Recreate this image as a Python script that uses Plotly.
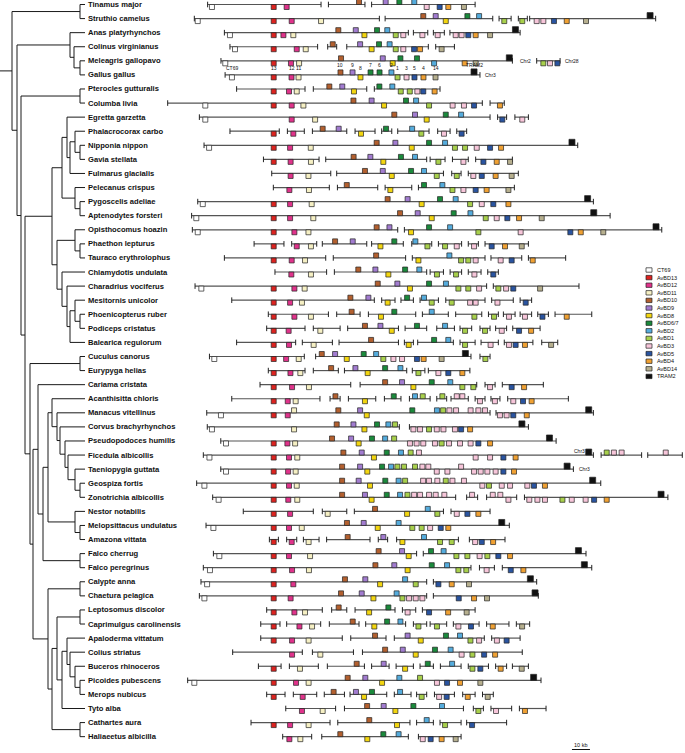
import plotly.graph_objects as go

# ---------------- data ----------------
SPECIES = [
    "Tinamus major", "Struthio camelus", "Anas platyrhynchos", "Colinus virginianus",
    "Meleagris gallopavo", "Gallus gallus", "Pterocles gutturalis", "Columba livia",
    "Egretta garzetta", "Phalacrocorax carbo", "Nipponia nippon", "Gavia stellata",
    "Fulmarus glacialis", "Pelecanus crispus", "Pygoscelis adeliae", "Aptenodytes forsteri",
    "Opisthocomus hoazin", "Phaethon lepturus", "Tauraco erythrolophus", "Chlamydotis undulata",
    "Charadrius vociferus", "Mesitornis unicolor", "Phoenicopterus ruber", "Podiceps cristatus",
    "Balearica regulorum", "Cuculus canorus", "Eurypyga helias", "Cariama cristata",
    "Acanthisitta chloris", "Manacus vitellinus", "Corvus brachyrhynchos", "Pseudopodoces humilis",
    "Ficedula albicollis", "Taeniopygia guttata", "Geospiza fortis", "Zonotrichia albicollis",
    "Nestor notabilis", "Melopsittacus undulatus", "Amazona vittata", "Falco cherrug",
    "Falco peregrinus", "Calypte anna", "Chaetura pelagica", "Leptosomus discolor",
    "Caprimulgus carolinensis", "Apaloderma vittatum", "Colius striatus", "Buceros rhinoceros",
    "Picoides pubescens", "Merops nubicus", "Tyto alba", "Cathartes aura", "Haliaeetus albicilla",
]

GENE_TYPES = ["CT69", "AvBD13", "AvBD12", "AvBD11", "AvBD10", "AvBD9", "AvBD8", "AvBD6/7",
              "AvBD2", "AvBD1", "AvBD3", "AvBD5", "AvBD4", "AvBD14", "TRAM2"]
GENE_CODES = ["CT", "13", "12", "11", "10", "9", "8", "67", "2", "1", "3", "5", "4", "14", "TR"]
GENE_COLORS = ["#ffffff", "#dc2320", "#e0338b", "#f6f0c4", "#b3602f", "#a27cd0", "#f3d610",
               "#1b8a3c", "#55acdd", "#a8d04c", "#f7c6da", "#2a54a0", "#f0a133", "#b7b08f", "#111111"]

# phylogeny: (node depth, [children]); integers are row indices
TREE = (12, [(80, [0, 1]),
             (17, [(70, [2, (74, [3, (80, [4, 5])])]),
                   (21, [(80, [6, 7]),
                         (25, [(52, [(62, [(67, [8, (70, [(75, [9, (80, [10, 11])]), 12])]),
                                           (75, [13, (80, [14, 15])])]),
                                     (57, [(75, [16, (80, [17, 18])]),
                                           (62, [19, (67, [20, (70, [(75, [21, (80, [22, 23])]), 24])])])])]),
                               (30, [(80, [25, 26]),
                                     (33, [(38, [27, (43, [(48, [(52, [28, (57, [29, (60, [30, (65, [31, (68, [32, (75, [33, (80, [34, 35])])])])])])]),
                                                                 (75, [36, (80, [37, 38])])]),
                                                           (80, [39, 40])])]),
                                           (48, [(80, [41, 42]),
                                                 (52, [(57, [(80, [43, 44]),
                                                             (62, [(67, [45, (70, [46, (75, [47, (80, [48, 49])])])]), 50])]),
                                                       (80, [51, 52])])])])])])])])])

# contigs (start kb, end kb) and genes (code, kb, 1 = upper strand / 0 = lower strand)
tinamus_segs = [(-36.7, 26.3), (30.4, 50.7), (54.4, 111.9)]
tinamus_genes = [("CT", -34.3, 0), ("13", 0, 0), ("12", 7.2, 0), ("10", 47.4, 1), ("9", 62.2, 1), ("67", 69.8, 1),
                 ("2", 78.1, 1), ("3", 85.0, 0), ("5", 92.2, 0), ("4", 97.0, 0), ("14", 105.7, 0)]
struthio_segs = [(-44.1, 58.7), (61.9, 121.7), (125.2, 131.9), (135.9, 140.9), (142.2, 212.2)]
struthio_genes = [("CT", -42.2, 0), ("13", 0, 0), ("12", 10, 0), ("11", 26.3, 0), ("10", 83.1, 1), ("9", 90, 1),
                  ("8", 95.6, 0), ("67", 107.6, 1), ("2", 114.1, 1), ("1", 128.1, 0), ("1", 138.1, 0), ("3", 146.1, 0),
                  ("3", 149.8, 0), ("5", 155.7, 0), ("4", 162.8, 0), ("14", 173.5, 0), ("TR", 209.1, 1)]
anas_segs = [(-27.4, 74.8), (77.6, 85.6), (88.7, 94.8), (97.9, 136.9)]
anas_genes = [("CT", -24.3, 0), ("13", 0, 0), ("12", 5.4, 0), ("11", 10.9, 0), ("10", 35.9, 1), ("9", 45.6, 1),
              ("8", 50.4, 0), ("67", 57.4, 1), ("2", 63.1, 1), ("1", 67.8, 0), ("3", 72.0, 0), ("3", 82.6, 0),
              ("3", 91.1, 0), ("3", 101.1, 0), ("3", 104.4, 0), ("5", 108.1, 0), ("4", 112.2, 0), ("14", 120.2, 0),
              ("TR", 134.3, 1)]
colinus_segs = [(-24.3, 24.4), (30, 35), (40.6, 85.9), (90, 100.4)]
colinus_genes = [("CT", -21.5, 0), ("13", 0, 0), ("12", 12.8, 0), ("11", 17.8, 0), ("10", 32.8, 1), ("9", 48, 1),
                 ("8", 54.4, 0), ("67", 58.5, 1), ("2", 64.4, 1), ("1", 67.8, 0), ("3", 72, 0), ("5", 78, 0),
                 ("4", 81.3, 0), ("14", 93.3, 0)]
meleagris_segs = [(-29.3, 132.6), (146.1, 159.1)]
meleagris_genes = [("CT", -26.9, 0), ("13", 0, 0), ("12", 9.6, 0), ("11", 14.1, 0), ("10", 37.4, 1), ("9", 60.6, 1),
                   ("8", 66.1, 0), ("67", 70.4, 1), ("67", 79.6, 1), ("2", 89.1, 0), ("4", 106.1, 0), ("14", 112.2, 0),
                   ("TR", 130.9, 1), ("1", 149.8, 0), ("3", 153.5, 0), ("5", 157.6, 0)]
gallus_segs = [(-27.0, 114.6)]
gallus_genes = [("CT", -23.2, 0), ("13", 0, 0), ("12", 9.9, 0), ("11", 13.8, 0), ("10", 37.1, 1), ("9", 43.8, 1),
                ("8", 48.2, 0), ("67", 53.8, 1), ("67", 58.8, 1), ("2", 65.4, 1), ("1", 68.8, 0), ("3", 73.8, 0),
                ("5", 78.2, 0), ("4", 83.2, 0), ("14", 89.9, 0), ("TR", 111.3, 1)]
pterocles_segs = [(-20.6, 17.4), (22, 51.7), (55.9, 92.4)]
pterocles_genes = [("13", 0, 0), ("12", 8.5, 0), ("11", 12.8, 0), ("10", 30.9, 1), ("9", 38.1, 1), ("8", 44.6, 0),
                   ("67", 58.7, 1), ("2", 65.9, 1), ("1", 70.6, 0), ("1", 75.6, 0), ("3", 79.8, 0), ("5", 83.1, 0),
                   ("4", 89.4, 0)]
columba_segs = [(-58.9, 115.9), (120.2, 128.1)]
columba_genes = [("CT", -38, 0), ("13", 0, 0), ("12", 10, 0), ("11", 16.5, 0), ("10", 44.3, 1), ("9", 54.4, 1),
                 ("8", 61.3, 0), ("67", 73.5, 1), ("2", 79.1, 1), ("1", 86.3, 0), ("3", 99.4, 0), ("3", 105.7, 0),
                 ("5", 111.3, 0), ("4", 125.7, 0)]
egretta_segs = [(-41.3, 120.2), (124.4, 129.4), (134, 141.5)]
egretta_genes = [("CT", -38, 0), ("12", 10, 0), ("11", 23, 0), ("10", 67, 1), ("9", 78.5, 1), ("8", 85, 0),
                 ("67", 95.6, 1), ("2", 104.1, 1), ("5", 127, 0), ("3", 138.1, 0)]
phalacrocorax_segs = [(-24.3, 3.1), (7.6, 17), (21.5, 40.6), (45.2, 56.3), (60, 65.6), (68.9, 86.3),
                      (91.1, 98), (101.7, 107.2)]
phalacrocorax_genes = [("13", 0, 0), ("12", 10.9, 0), ("10", 27.2, 1), ("9", 36.1, 1), ("8", 48.5, 0),
                       ("67", 62.4, 1), ("2", 76.9, 1), ("1", 82, 0), ("3", 94.6, 0), ("5", 104.4, 0)]
nipponia_segs = [(-38.7, 168.9)]
nipponia_genes = [("CT", -35.9, 0), ("13", 0, 0), ("12", 9.1, 0), ("11", 20.6, 0), ("10", 57.2, 1), ("9", 67.6, 1),
                  ("8", 76.7, 0), ("67", 86.3, 1), ("2", 95.2, 1), ("1", 100.7, 0), ("1", 106.3, 0), ("3", 112.8, 0),
                  ("5", 120.2, 0), ("4", 126.3, 0), ("TR", 165.7, 1)]
gavia_segs = [(-5.7, 25.2), (28.9, 85), (86.9, 95.2), (99.3, 108.1), (112.2, 132.6)]
gavia_genes = [("13", 0, 0), ("12", 9.4, 0), ("11", 20.7, 0), ("10", 44.4, 1), ("9", 53.7, 1), ("8", 60.9, 0),
               ("67", 70.7, 1), ("2", 78.5, 1), ("1", 91.5, 0), ("3", 105.4, 0), ("5", 116.5, 0), ("4", 123.9, 0),
               ("14", 131.3, 0)]
fulmarus_segs = [(-1.1, 31.7), (35, 94.3), (98.9, 104.1), (108.1, 135.9)]
fulmarus_genes = [("12", 9.4, 0), ("11", 19.3, 0), ("10", 50.7, 1), ("9", 60.6, 1), ("8", 65.6, 0), ("67", 76.3, 1),
                  ("2", 83.5, 1), ("1", 90.6, 0), ("1", 101.7, 0), ("3", 110.9, 0), ("5", 115.6, 0), ("4", 123.3, 0),
                  ("14", 132.2, 0)]
pelecanus_segs = [(-0.2, 30.9), (35.4, 57.8), (61.9, 76.7), (80.4, 133.7)]
pelecanus_genes = [("12", 8.7, 0), ("11", 19.6, 0), ("10", 40.6, 1), ("8", 64.8, 0), ("67", 83.5, 1), ("2", 93.7, 1),
                   ("1", 99.3, 0), ("3", 105.4, 0), ("5", 112.2, 0), ("4", 118.3, 0), ("14", 130.4, 0)]
pygoscelis_segs = [(-42.2, 177.6)]
pygoscelis_genes = [("CT", -39.4, 0), ("13", 0, 0), ("12", 9.1, 0), ("11", 21.1, 0), ("10", 63.3, 1), ("9", 74.4, 1),
                    ("8", 82.2, 0), ("67", 92.4, 1), ("2", 101.1, 1), ("1", 109.1, 0), ("3", 115.6, 0), ("5", 122, 0),
                    ("4", 130.4, 0), ("TR", 174.4, 1)]
aptenodytes_segs = [(-45.6, 186.9)]
aptenodytes_genes = [("CT", -43, 0), ("13", 0, 0), ("12", 9.1, 0), ("11", 22, 0), ("10", 70.2, 1), ("9", 80, 1),
                     ("8", 87.8, 0), ("67", 100, 1), ("2", 109.3, 1), ("1", 117.8, 0), ("3", 123.9, 0), ("5", 129.8, 0),
                     ("4", 136.3, 0), ("14", 148.9, 0), ("TR", 177.8, 1)]
opisthocomus_segs = [(-45.2, 68.9), (72.6, 215.6)]
opisthocomus_genes = [("CT", -42.2, 0), ("13", 0, 0), ("12", 11.5, 0), ("11", 19.3, 0), ("10", 57.2, 1), ("9", 64.3, 1),
                      ("8", 76.3, 0), ("67", 86.3, 1), ("2", 98, 1), ("1", 113.7, 0), ("3", 137.2, 0), ("5", 164.8, 0),
                      ("4", 170.6, 0), ("14", 183.1, 0), ("TR", 212.4, 1)]
phaethon_segs = [(-10.9, 5.7), (10, 23.9), (27, 51.7), (54.4, 72), (76.7, 87.8), (91.5, 104.4), (108.1, 113.7),
                 (117.4, 141.5)]
phaethon_genes = [("13", 0, 0), ("12", 12.8, 0), ("11", 20.7, 0), ("10", 34.1, 1), ("9", 43.9, 1), ("8", 59.3, 0),
                  ("67", 67, 1), ("2", 78.7, 1), ("1", 85.4, 0), ("1", 95.2, 0), ("3", 101.7, 0), ("3", 111.3, 0),
                  ("5", 121.1, 0), ("4", 128.5, 0), ("14", 137.8, 0)]
tauraco_segs = [(-27.4, 28.9), (33.1, 73.3), (77, 117.4), (120.7, 137.8), (141.5, 162.2)]
tauraco_genes = [("13", 0, 0), ("12", 10, 0), ("11", 17.4, 0), ("10", 56.9, 1), ("8", 80.4, 0), ("2", 97.6, 1),
                 ("1", 104.1, 0), ("1", 108.1, 0), ("3", 112.2, 0), ("3", 126.1, 0), ("5", 132.2, 0), ("4", 143.9, 0)]
chlamydotis_segs = [(0.7, 29.4), (33.7, 85), (86.9, 94.3), (98, 104.4), (108.1, 115.2), (118.9, 124.8)]
chlamydotis_genes = [("12", 9.8, 0), ("11", 20.7, 0), ("10", 47, 1), ("9", 56.5, 1), ("8", 63.7, 0), ("67", 73, 1),
                     ("2", 80.9, 1), ("1", 90.7, 0), ("1", 101.3, 0), ("3", 111.5, 0), ("5", 122, 0)]
charadrius_segs = [(-43.7, 118.3), (122, 169.6)]
charadrius_genes = [("CT", -40.2, 0), ("13", 0, 0), ("12", 11.5, 0), ("11", 17.2, 0), ("10", 57.8, 1), ("9", 68.7, 1),
                    ("8", 75.7, 0), ("67", 86.3, 1), ("2", 95.7, 1), ("1", 102.6, 0), ("1", 108.1, 0), ("3", 114.1, 0),
                    ("1", 124.8, 0), ("3", 129.1, 0), ("5", 133.1, 0), ("14", 148, 0)]
mesitornis_segs = [(-23.3, 55.9), (60, 67.4), (70.7, 77.6), (81.3, 91.5), (95.6, 117.4), (121.1, 133.1),
                   (136.9, 143.3)]
mesitornis_genes = [("13", 0, 0), ("12", 9.1, 0), ("11", 15.7, 0), ("10", 42.6, 1), ("9", 52.6, 1), ("8", 63.3, 0),
                    ("67", 74.1, 1), ("2", 83.5, 1), ("1", 87.8, 0), ("1", 98.9, 0), ("3", 109.1, 0), ("3", 112.2, 0),
                    ("3", 124.3, 0), ("5", 140, 0)]
phoenicopterus_segs = [(-3, 30.4), (35, 48), (52.6, 78.9), (82.6, 97), (101.1, 115.6), (119.3, 124.8),
                       (127.6, 134.1), (136.9, 143.3), (146.7, 152.6), (156.3, 176.7)]
phoenicopterus_genes = [("13", 0, 0), ("12", 11.5, 0), ("11", 20.7, 0), ("10", 43.3, 1), ("8", 59.6, 0),
                        ("67", 67, 1), ("2", 87.8, 1), ("1", 111.5, 0), ("1", 122.4, 0), ("3", 130.7, 0),
                        ("3", 139.6, 0), ("5", 149.3, 0), ("4", 162.8, 0)]
podiceps_segs = [(-3.9, 17.4), (22, 36.9), (41.1, 69.3), (73, 85), (90.6, 100.4), (103.5, 110), (114.6, 120.2),
                 (123.3, 129.4), (132.8, 148)]
podiceps_genes = [("13", 0, 0), ("12", 8.3, 0), ("11", 25.9, 0), ("10", 50.7, 1), ("9", 59.3, 1), ("8", 65.6, 0),
                  ("67", 79.6, 1), ("2", 95.2, 1), ("1", 106.3, 0), ("1", 117.4, 0), ("3", 126.7, 0), ("5", 136.3, 0),
                  ("4", 143, 0)]
balearica_segs = [(-20.6, 12.2), (15.9, 32.6), (36.3, 69.3), (72.6, 77.6), (80, 99.8), (103.5, 111.9),
                  (115.2, 124.8), (128.1, 144), (148.9, 157.8)]
balearica_genes = [("13", 0, 0), ("12", 8.5, 0), ("11", 22.2, 0), ("10", 54.1, 1), ("8", 75, 0), ("67", 89.1, 1),
                   ("2", 97, 1), ("1", 106.3, 0), ("3", 120.5, 0), ("3", 130.7, 0), ("5", 134.4, 0), ("4", 139.6, 0),
                   ("14", 154.1, 0)]
cuculus_segs = [(-35.7, 17), (23.3, 109.6), (114.6, 120.2)]
cuculus_genes = [("CT", -33, 0), ("13", 0, 0), ("12", 6.9, 0), ("11", 13.9, 0), ("10", 26.7, 1), ("9", 34.1, 1),
                 ("8", 40.6, 0), ("67", 50, 1), ("2", 56.9, 1), ("1", 60.9, 0), ("3", 66.5, 0), ("3", 71.3, 0),
                 ("5", 79.6, 0), ("4", 83.3, 0), ("14", 93.3, 0), ("TR", 106.5, 1), ("1", 117.6, 0)]
eurypyga_segs = [(-3, 17.4), (22, 35.9), (39.3, 73.9), (77, 84), (85.9, 109)]
eurypyga_genes = [("13", 0, 0), ("12", 9.3, 0), ("11", 14.8, 0), ("10", 31.9, 1), ("9", 45.4, 1), ("8", 52.2, 0),
                  ("67", 61.9, 1), ("2", 70.4, 1), ("1", 80.4, 0), ("3", 91.5, 0), ("5", 97, 0), ("4", 104.8, 0)]
cariama_segs = [(-7.6, 42.8), (48, 112.8), (117.4, 123), (127, 149.8)]
cariama_genes = [("13", 0, 0), ("12", 10.2, 0), ("11", 19.6, 0), ("10", 61.9, 1), ("9", 71.3, 1), ("8", 77.6, 0),
                 ("67", 87.8, 1), ("2", 98.1, 1), ("1", 104.8, 0), ("1", 110.9, 0), ("3", 120.2, 0), ("5", 132.2, 0),
                 ("4", 139.1, 0)]
acanthisitta_segs = [(-23.3, 25.7), (31.3, 36.9), (41.5, 56.7), (61.5, 70.7), (75.4, 86.9), (90.6, 96.1),
                     (98.5, 108.1), (111.9, 117.4), (120.7, 125.7), (130, 163.7)]
acanthisitta_genes = [("13", 0, 0), ("12", 7.8, 0), ("11", 12.2, 0), ("10", 34.3, 1), ("8", 50.7, 0), ("67", 66.7, 1),
                      ("2", 78.5, 1), ("1", 82.8, 1), ("1", 93.7, 1), ("3", 101.7, 1), ("3", 104.8, 1),
                      ("3", 114.6, 0), ("3", 122.9, 0), ("3", 133.1, 0), ("5", 138.5, 0), ("4", 143.3, 0)]
manacus_segs = [(-37.2, 120.2), (123.5, 177.6)]
manacus_genes = [("CT", -29.3, 0), ("13", 0, 0), ("12", 7.8, 0), ("11", 11.3, 1), ("10", 35.9, 1), ("9", 48, 1),
                 ("8", 51.7, 0), ("67", 77, 1), ("2", 90.7, 1), ("1", 94.1, 1), ("3", 97.6, 1), ("3", 101.3, 1),
                 ("3", 109.4, 1), ("3", 113.7, 1), ("3", 117.4, 1), ("3", 125.7, 0), ("3", 129.4, 0),
                 ("5", 133.1, 0), ("4", 140.6, 0), ("TR", 175, 1)]
corvus_segs = [(-36.9, 69.8), (75.4, 141.5)]
corvus_genes = [("CT", -34.3, 0), ("11", 11.3, 0), ("10", 35, 1), ("9", 44.3, 1), ("8", 50.4, 0), ("67", 57.4, 1),
                ("2", 63.7, 1), ("1", 67.4, 1), ("3", 77.6, 0), ("3", 81.3, 0), ("1", 86.3, 0), ("3", 90.6, 0),
                ("3", 94.3, 0), ("3", 100.7, 0), ("5", 104.1, 0), ("4", 109.1, 0), ("TR", 137.9, 1)]
pseudopodoces_segs = [(-29.4, 156.9)]
pseudopodoces_genes = [("CT", -26.5, 0), ("13", 0, 0), ("12", 7.6, 0), ("11", 11.9, 0), ("10", 32.4, 1),
                       ("9", 43, 1), ("8", 47.2, 0), ("67", 54.6, 1), ("2", 61.9, 1), ("1", 66.9, 1), ("3", 75.7, 0),
                       ("3", 79.4, 0), ("3", 83.1, 0), ("3", 89.6, 0), ("1", 93.3, 0), ("3", 97.4, 0),
                       ("3", 103.5, 0), ("3", 109.4, 0), ("5", 113.7, 0), ("4", 120.2, 0), ("TR", 153.2, 1)]
ficedula_segs = [(-39.1, 177.6), (181.9, 204.4), (207.8, 227.0)]
ficedula_genes = [("CT", -35.7, 0), ("13", 0, 0), ("12", 8.5, 0), ("11", 13.1, 0), ("10", 38.7, 1), ("9", 48.9, 1),
                  ("8", 55.7, 0), ("67", 62.8, 1), ("2", 70.7, 1), ("1", 76.1, 1), ("3", 80.7, 1), ("3", 112.2, 0),
                  ("3", 120.2, 0), ("5", 127.6, 0), ("4", 134.4, 0), ("TR", 175, 1), ("1", 185, 1), ("3", 189, 1),
                  ("3", 193.3, 1), ("3", 217.8, 1)]
taeniopygia_segs = [(-29.4, 166.5)]
taeniopygia_genes = [("CT", -26.5, 0), ("13", 0, 0), ("12", 8, 0), ("11", 12.2, 0), ("10", 38, 1), ("9", 48, 1),
                     ("8", 52, 0), ("67", 60.2, 1), ("2", 65.2, 1), ("1", 68.7, 1), ("1", 72.4, 1), ("1", 78.5, 1),
                     ("3", 82.6, 1), ("3", 85.9, 1), ("3", 90.6, 0), ("3", 96.5, 0), ("3", 104.1, 1), ("3", 111.3, 0),
                     ("3", 115, 0), ("3", 118.7, 0), ("3", 123.3, 0), ("5", 127.6, 0), ("4", 133.5, 0), ("TR", 163, 1)]
geospiza_segs = [(-42.8, 181.7)]
geospiza_genes = [("CT", -38.5, 0), ("13", 0, 0), ("12", 8.5, 0), ("11", 12.8, 0), ("10", 38, 1), ("9", 47.2, 1),
                  ("8", 53.5, 0), ("67", 62, 1), ("2", 69.4, 1), ("1", 73, 1), ("3", 83, 1), ("3", 86.3, 1),
                  ("3", 90.9, 1), ("1", 95.6, 1), ("3", 99.3, 1), ("3", 105.7, 1), ("3", 115.9, 0), ("1", 119.6, 0),
                  ("3", 126.7, 0), ("3", 131.3, 0), ("3", 140.9, 0), ("5", 144.6, 0), ("4", 150.7, 0), ("TR", 177.2, 1)]
zonotrichia_segs = [(-33.9, 101.1), (107.2, 113.3), (118.3, 135), (139.3, 219)]
zonotrichia_genes = [("CT", -30.6, 0), ("13", 0, 0), ("12", 8.1, 0), ("11", 13.1, 0), ("10", 38, 1), ("9", 50.7, 1),
                     ("8", 54.4, 0), ("67", 62.8, 1), ("2", 70.2, 1), ("1", 74.3, 1), ("3", 78, 1), ("3", 81.3, 1),
                     ("3", 86.3, 1), ("3", 90, 1), ("3", 94.8, 1), ("3", 110.2, 1), ("3", 121.7, 1), ("3", 125.9, 1),
                     ("3", 130.4, 0), ("3", 142, 0), ("3", 146.5, 0), ("3", 150.7, 0), ("1", 160.4, 0),
                     ("3", 165.6, 0), ("3", 173.3, 0), ("5", 178, 0), ("4", 185, 0), ("TR", 215.2, 1)]
nestor_segs = [(-16.9, 22), (27, 40.6), (44.8, 94.3), (98.5, 120.2)]
nestor_genes = [("13", 0, 0), ("12", 9.1, 0), ("11", 30, 0), ("10", 56.3, 1), ("8", 74.1, 0), ("2", 85.6, 1),
                ("1", 90.9, 0), ("3", 101.7, 0), ("5", 107.6, 0), ("4", 113.7, 0)]
melopsittacus_segs = [(-37.6, 130.9)]
melopsittacus_genes = [("CT", -33.5, 0), ("13", 0, 0), ("12", 8.5, 0), ("11", 15.6, 0), ("10", 40.7, 1),
                       ("9", 50, 1), ("8", 57.8, 0), ("2", 69.4, 1), ("1", 77, 0), ("1", 82.2, 0), ("3", 86.9, 0),
                       ("5", 92.8, 0), ("4", 97, 0), ("TR", 126.7, 1)]
amazona_segs = [(-2.4, 2.6), (7.2, 12.8), (16.5, 25.2), (29.4, 53.5), (58.1, 63.3), (68.3, 102.6), (108.7, 128.5)]
amazona_genes = [("13", 0, 0), ("12", 10, 0), ("11", 19.4, 0), ("10", 41.1, 1), ("9", 60.9, 1), ("8", 71.5, 0),
                 ("2", 83.5, 1), ("1", 92.4, 0), ("1", 98.9, 0), ("3", 111.9, 0), ("5", 115.6, 0), ("4", 121.9, 0)]
cherrug_segs = [(-33.5, 79.4), (83.1, 173.5)]
cherrug_genes = [("CT", -30.2, 0), ("13", 0, 0), ("12", 8.5, 0), ("11", 20.2, 0), ("10", 58.3, 1), ("9", 71.3, 1),
                 ("8", 75, 0), ("67", 87.4, 1), ("2", 94.4, 1), ("1", 101.5, 0), ("1", 107.6, 0), ("3", 114.4, 0),
                 ("1", 118.7, 0), ("5", 124.8, 0), ("4", 131.3, 0), ("TR", 169.3, 1)]
peregrinus_segs = [(-39.1, 109.6), (114.3, 122.6), (127, 176.7)]
peregrinus_genes = [("CT", -35.4, 0), ("13", 0, 0), ("12", 10.2, 0), ("11", 19.6, 0), ("10", 56.5, 1), ("9", 67, 1),
                    ("8", 74.4, 0), ("67", 87.8, 1), ("2", 96.3, 1), ("1", 102.6, 0), ("1", 107, 0), ("3", 118.3, 0),
                    ("5", 131.7, 0), ("4", 138.7, 0), ("TR", 172.6, 1)]
calypte_segs = [(-40.4, 85), (88.7, 146.1)]
calypte_genes = [("CT", -37, 0), ("13", 0, 0), ("12", 10.9, 0), ("10", 39.6, 1), ("9", 50.9, 1), ("8", 59.1, 0),
                 ("2", 73, 1), ("1", 78.9, 0), ("5", 91.5, 0), ("4", 98.9, 0), ("14", 108.5, 0), ("TR", 142.6, 1)]
chaetura_segs = [(-41.3, 85), (88.7, 147)]
chaetura_genes = [("CT", -38.5, 0), ("13", 0, 0), ("12", 9.4, 0), ("10", 37.4, 1), ("9", 48.9, 1), ("8", 55.4, 0),
                  ("2", 68.3, 1), ("1", 71.5, 0), ("3", 75.2, 0), ("3", 78.9, 0), ("3", 82.6, 0), ("5", 102.8, 0),
                  ("4", 111.3, 0), ("14", 118.5, 0), ("TR", 145.2, 1)]
leptosomus_segs = [(-3.9, 27), (32.2, 40.6), (45.2, 67.4), (71.5, 78.9), (82.6, 111.9)]
leptosomus_genes = [("13", 0, 0), ("12", 11.5, 0), ("11", 17.4, 0), ("10", 36.1, 1), ("8", 53, 0), ("67", 63.7, 1),
                    ("3", 74.4, 0), ("5", 86.3, 0), ("4", 96.9, 0), ("14", 107.2, 0)]
caprimulgus_segs = [(-7.2, 3.5), (7.2, 26.1), (30.9, 47.4), (51.1, 73.3), (77.6, 85), (86.9, 96.1), (99.8, 114.1),
                    (118.3, 130.7), (134.8, 142.2)]
caprimulgus_genes = [("13", 0, 0), ("12", 14.3, 0), ("11", 21.3, 0), ("10", 43.9, 1), ("8", 55.9, 0), ("67", 63, 1),
                     ("2", 70.4, 1), ("1", 80.4, 0), ("1", 90.7, 0), ("3", 102.6, 0), ("5", 109.6, 0),
                     ("4", 121.7, 0), ("14", 138, 0)]
apaloderma_segs = [(-7.2, 38.1), (42.8, 62.4), (67, 117), (121.1, 136.9)]
apaloderma_genes = [("13", 0, 0), ("12", 10.2, 0), ("11", 19.4, 0), ("10", 56.3, 1), ("9", 74.4, 1), ("8", 81.7, 0),
                    ("67", 95.7, 1), ("2", 103.5, 1), ("1", 109.3, 0), ("3", 114.1, 0), ("3", 124, 0), ("5", 129.4, 0)]
colius_segs = [(-22.8, 15.9), (21.5, 44.3), (49.3, 138.1)]
colius_genes = [("12", 10.2, 0), ("11", 25.9, 0), ("10", 61.9, 1), ("9", 71.7, 1), ("8", 78.9, 0), ("67", 89.6, 1),
                ("2", 98.3, 1), ("3", 104.4, 0), ("1", 110.4, 0), ("5", 116.9, 0), ("4", 123, 0)]
buceros_segs = [(-8.5, 4.1), (8.7, 24.8), (29.8, 50.4), (54.4, 64.1), (68, 77.6), (81.3, 88.7), (92.6, 104.1),
                (108.1, 119.3), (123.3, 129.4), (132.6, 141.5)]
buceros_genes = [("13", 0, 0), ("11", 14.6, 0), ("10", 46.1, 1), ("9", 61.1, 1), ("8", 73, 0), ("67", 85.6, 1),
                 ("2", 99.1, 1), ("1", 110.4, 0), ("5", 114.8, 0), ("4", 126.1, 0), ("14", 137.8, 0)]
picoides_segs = [(-47.8, 148.5)]
picoides_genes = [("CT", -44.1, 0), ("13", 0, 0), ("12", 12.4, 0), ("11", 19.4, 0), ("10", 41.1, 1), ("9", 50.9, 1),
                  ("8", 60.2, 0), ("2", 69.8, 1), ("1", 81.3, 1), ("3", 90.7, 0), ("5", 96.3, 0), ("4", 103.5, 0),
                  ("14", 114.8, 0), ("TR", 144.4, 1)]
merops_segs = [(-3.9, 6.3), (10.9, 23.9), (28.1, 39.3), (42.4, 62.8), (67, 76.3), (79.4, 85), (89.3, 100.4),
               (105, 111.9), (116, 122)]
merops_genes = [("13", 0, 0), ("12", 16.1, 0), ("10", 33.3, 1), ("9", 45.7, 1), ("8", 50.2, 0), ("67", 54.6, 1),
                ("2", 70.2, 1), ("1", 82.2, 0), ("3", 91.9, 0), ("5", 96.1, 0), ("4", 107.8, 0), ("14", 118.9, 0)]
tyto_segs = [(6.7, 34.4), (39.3, 105.4), (110.9, 116.5), (120.7, 132.2), (136.5, 151.3)]
tyto_genes = [("12", 15.7, 0), ("11", 27.2, 0), ("10", 51.9, 1), ("9", 61.1, 1), ("8", 67.6, 0), ("67", 77.6, 1),
              ("2", 93.5, 1), ("1", 113.7, 0), ("3", 123.5, 0), ("4", 139.6, 0)]
cathartes_segs = [(-12.6, 31.3), (35.6, 75.7), (79.4, 88.7), (92.4, 104.1), (107.2, 129.4)]
cathartes_genes = [("13", 0, 0), ("12", 9.1, 0), ("11", 19.4, 0), ("10", 53.1, 1), ("8", 68.5, 0), ("2", 85, 1),
                   ("1", 95.2, 0), ("5", 110.2, 0)]
haliaeetus_segs = [(5, 21.1), (26.7, 74.8), (80.4, 104.1)]
haliaeetus_genes = [("12", 8.7, 0), ("11", 14.8, 0), ("10", 37, 1), ("8", 52, 0), ("67", 60.9, 1), ("2", 69.4, 1),
                    ("3", 82.8, 0), ("5", 87.2, 0), ("4", 93.3, 0), ("14", 101.1, 0)]

ROW_SEGMENTS = [tinamus_segs, struthio_segs, anas_segs, colinus_segs, meleagris_segs, gallus_segs, pterocles_segs,
                columba_segs, egretta_segs, phalacrocorax_segs, nipponia_segs, gavia_segs, fulmarus_segs,
                pelecanus_segs, pygoscelis_segs, aptenodytes_segs, opisthocomus_segs, phaethon_segs, tauraco_segs,
                chlamydotis_segs, charadrius_segs, mesitornis_segs, phoenicopterus_segs, podiceps_segs,
                balearica_segs, cuculus_segs, eurypyga_segs, cariama_segs, acanthisitta_segs, manacus_segs,
                corvus_segs, pseudopodoces_segs, ficedula_segs, taeniopygia_segs, geospiza_segs, zonotrichia_segs,
                nestor_segs, melopsittacus_segs, amazona_segs, cherrug_segs, peregrinus_segs, calypte_segs,
                chaetura_segs, leptosomus_segs, caprimulgus_segs, apaloderma_segs, colius_segs, buceros_segs,
                picoides_segs, merops_segs, tyto_segs, cathartes_segs, haliaeetus_segs]
ROW_GENES = [tinamus_genes, struthio_genes, anas_genes, colinus_genes, meleagris_genes, gallus_genes, pterocles_genes,
             columba_genes, egretta_genes, phalacrocorax_genes, nipponia_genes, gavia_genes, fulmarus_genes,
             pelecanus_genes, pygoscelis_genes, aptenodytes_genes, opisthocomus_genes, phaethon_genes, tauraco_genes,
             chlamydotis_genes, charadrius_genes, mesitornis_genes, phoenicopterus_genes, podiceps_genes,
             balearica_genes, cuculus_genes, eurypyga_genes, cariama_genes, acanthisitta_genes, manacus_genes,
             corvus_genes, pseudopodoces_genes, ficedula_genes, taeniopygia_genes, geospiza_genes, zonotrichia_genes,
             nestor_genes, melopsittacus_genes, amazona_genes, cherrug_genes, peregrinus_genes, calypte_genes,
             chaetura_genes, leptosomus_genes, caprimulgus_genes, apaloderma_genes, colius_genes, buceros_genes,
             picoides_genes, merops_genes, tyto_genes, cathartes_genes, haliaeetus_genes]

GALLUS_ROW = 5
GALLUS_LABELS = ["CT69", "13", "12", "11", "10", "9", "8", "7", "6", "2", "1", "3", "5", "4", "14", "TRAM2"]
CHR_NOTES = [(4, 135.9, "Chr2"), (4, 160.9, "Chr28"), (5, 116.3, "Chr3"), (32, 165.6, "Chr3"), (33, 168.4, "Chr3")]
SCALE_BAR_START_KB = 165.7
SCALE_BAR_KB = 10

# ---------------- figure ----------------
W, H = 685, 753
ROW0_PX, ROW_STEP_PX = 4.5, 14.08
KB_PX, ANCHOR_PX = 1.8, 273.7
y_range = [(H - ROW0_PX) / ROW_STEP_PX, -ROW0_PX / ROW_STEP_PX]
x_range = [-ANCHOR_PX / KB_PX, (W - ANCHOR_PX) / KB_PX]
BOX_OFF = 2.5 / ROW_STEP_PX
TREE_LEAF_X, LABEL_X = 85, 86

fig = go.Figure()

# tree
tx, ty = [], []


def draw(node):
    if isinstance(node, int):
        return node, None
    x, kids = node
    ys = []
    for k in kids:
        ky, kx = draw(k)
        end = TREE_LEAF_X if kx is None else kx
        tx.extend([x, end, None])
        ty.extend([ky, ky, None])
        ys.append(ky)
    tx.extend([x, x, None])
    ty.extend([ys[0], ys[-1], None])
    return (ys[0] + ys[-1]) / 2, x


root_y, root_x = draw(TREE)
tx.extend([0, root_x, None])
ty.extend([root_y, root_y, None])
fig.add_trace(go.Scatter(x=tx, y=ty, xaxis="x2", yaxis="y", mode="lines",
                         line=dict(color="#1a1a1a", width=1), hoverinfo="skip", showlegend=False))

# contig lines and end ticks
lx, ly, ex, ey = [], [], [], []
for r, segs in enumerate(ROW_SEGMENTS):
    for s, e in segs:
        lx.extend([s, e, None])
        ly.extend([r, r, None])
        ex.extend([s, e])
        ey.extend([r, r])
fig.add_trace(go.Scatter(x=lx, y=ly, mode="lines", line=dict(color="#555555", width=1.2),
                         hoverinfo="skip", showlegend=False))
fig.add_trace(go.Scatter(x=ex, y=ey, mode="markers",
                         marker=dict(symbol="line-ns", size=4, line=dict(width=1, color="#222222")),
                         hoverinfo="skip", showlegend=False))

# genes
for code, name, color in zip(GENE_CODES, GENE_TYPES, GENE_COLORS):
    gx, gy = [], []
    big = code == "TR"
    off = BOX_OFF * (1.2 if big else 1.0)
    for r, genes in enumerate(ROW_GENES):
        for c, kb, up in genes:
            if c == code:
                gx.append(kb)
                gy.append(r - off if up else r + off)
    fig.add_trace(go.Scatter(x=gx, y=gy, mode="markers", name=name,
                             marker=dict(symbol="square", size=6 if big else 5, color=color,
                                         line=dict(width=0.7, color="#222222")),
                             hovertemplate=name + " %{x:.1f} kb<extra></extra>", showlegend=False))

annotations = []
for r, sp in enumerate(SPECIES):
    annotations.append(dict(x=LABEL_X, y=r, xref="x2", yref="y", text="<b>" + sp + "</b>", showarrow=False,
                            xanchor="left", yanchor="middle",
                            font=dict(family="Liberation Sans, Arial", size=7.6, color="#111111")))

for lab, (c, kb, up) in zip(GALLUS_LABELS, gallus_genes):
    annotations.append(dict(x=kb, y=GALLUS_ROW - (0.36 if up else 0.13), xref="x", yref="y", text=lab,
                            showarrow=False, xanchor="center", yanchor="bottom",
                            font=dict(family="Liberation Sans, Arial", size=5, color="#111111")))

for r, kb, txt in CHR_NOTES:
    annotations.append(dict(x=kb, y=r - (0.27 if r == 32 else 0), xref="x", yref="y", text=txt,
                            showarrow=False, xanchor="left", yanchor="middle",
                            font=dict(family="Liberation Sans, Arial", size=5, color="#111111")))

# scale bar
sb_y = (749.5 - ROW0_PX) / ROW_STEP_PX
fig.add_trace(go.Scatter(x=[SCALE_BAR_START_KB, SCALE_BAR_START_KB + SCALE_BAR_KB], y=[sb_y, sb_y],
                         mode="lines", line=dict(color="#111111", width=1), hoverinfo="skip", showlegend=False))
annotations.append(dict(x=SCALE_BAR_START_KB + SCALE_BAR_KB / 2, y=sb_y, xref="x", yref="y",
                        text=f"{SCALE_BAR_KB} kb", showarrow=False, xanchor="center", yanchor="bottom",
                        font=dict(family="Liberation Sans, Arial", size=5.5, color="#111111")))

# legend (manual, small)
shapes = []
LEG_X0, LEG_Y0, LEG_STEP = 646, 270, 7.6
for k, (name, color) in enumerate(zip(GENE_TYPES, GENE_COLORS)):
    yc = LEG_Y0 + k * LEG_STEP
    shapes.append(dict(type="rect", xref="paper", yref="paper",
                       x0=LEG_X0 / W, x1=(LEG_X0 + 6) / W, y0=1 - (yc + 2.2) / H, y1=1 - (yc - 2.2) / H,
                       fillcolor=color, line=dict(color="#222222", width=0.7)))
    annotations.append(dict(x=(LEG_X0 + 9) / W, y=1 - yc / H, xref="paper", yref="paper", text=name,
                            showarrow=False, xanchor="left", yanchor="middle",
                            font=dict(family="Liberation Sans, Arial", size=5.5, color="#111111")))

fig.update_layout(
    width=W, height=H, margin=dict(l=0, r=0, t=0, b=0),
    paper_bgcolor="white", plot_bgcolor="white", showlegend=False,
    xaxis=dict(range=x_range, visible=False, domain=[0, 1], fixedrange=True),
    xaxis2=dict(range=[0, W], visible=False, domain=[0, 1], overlaying="x", fixedrange=True),
    yaxis=dict(range=y_range, visible=False, domain=[0, 1], fixedrange=True),
    annotations=annotations, shapes=shapes,
)

fig.write_html("out.html", config={"displayModeBar": False},
               post_script="document.body.style.margin='0';document.body.style.overflow='hidden';")
